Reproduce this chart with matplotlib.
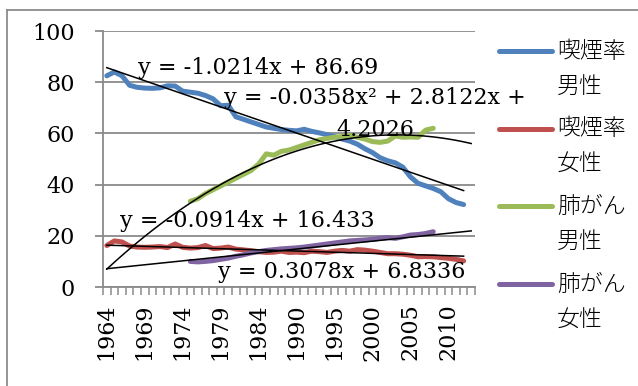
import numpy as np
import matplotlib
matplotlib.use("Agg")
import matplotlib.pyplot as plt
from matplotlib.lines import Line2D

# Survey years (one year absent between 1984 and 1990)
years = list(range(1964, 1985)) + list(range(1986, 2014))

# Smoking rate (%), from 1964
smoking_male = [82.5, 84.0, 82.5, 78.8, 78.0, 77.7, 77.6, 77.8, 78.6, 78.5,
                76.5, 76.1, 75.7, 74.8, 73.5, 70.8, 71.0, 66.5, 65.5, 64.5,
                63.5, 62.5, 62.0, 61.5, 61.2, 61.0, 61.6, 60.8, 60.2, 59.5,
                58.8, 57.8, 57.0, 55.8, 54.0, 52.5, 50.5, 49.3, 48.5, 46.8,
                43.0, 40.5, 39.5, 38.5, 37.2, 34.5, 33.0, 32.2]
smoking_female = [16.2, 18.0, 17.6, 16.0, 15.6, 15.5, 15.6, 15.8, 15.4, 16.8,
                  15.5, 15.2, 15.4, 16.2, 15.0, 15.2, 15.6, 14.8, 14.5, 14.2,
                  13.8, 13.5, 13.6, 14.0, 13.5, 13.6, 13.4, 14.0, 13.8, 13.5,
                  14.0, 14.3, 14.0, 14.6, 14.4, 14.0, 13.5, 13.0, 13.0, 12.8,
                  12.4, 11.8, 11.9, 11.8, 11.5, 11.2, 10.8, 10.2]

# Lung cancer mortality, from 1975
lung_start = 11
lung_male = [33.5, 34.5, 36.5, 38.0, 39.5, 41.0, 42.5, 44.0, 45.5, 48.0,
             52.0, 51.5, 53.0, 53.5, 54.5, 55.5, 56.5, 57.5, 58.0, 58.5,
             58.8, 59.2, 58.5, 57.8, 56.8, 56.5, 57.0, 59.0, 58.5, 58.6,
             58.5, 61.3, 62.0]
lung_female = [10.0, 9.8, 10.0, 10.3, 10.8, 11.3, 12.0, 12.6, 13.3, 13.8,
               14.3, 14.6, 14.9, 15.1, 15.3, 15.6, 16.0, 16.4, 16.8, 17.2,
               17.6, 18.0, 18.2, 18.4, 18.6, 19.0, 19.3, 19.0, 19.6, 20.3,
               20.5, 20.9, 21.6]

# Trendline coefficients (x = 1, 2, ... per category)
trend_smoking_male = (-1.0214, 86.69)
trend_smoking_female = (-0.0914, 16.433)
trend_lung_male = (-0.0358, 2.8122, 4.2026)
trend_lung_female = (0.3078, 6.8336)

legend_labels = [("喫煙率", "男性"), ("喫煙率", "女性"), ("肺がん", "男性"), ("肺がん", "女性")]
colors = ["#4F81BD", "#C0504D", "#9BBB59", "#8064A2"]

W, H = 638, 386
fig = plt.figure(figsize=(W / 100, H / 100), dpi=100)


def fx(px):
    return px / W


def fy(py):
    return 1 - py / H


# outer chart frame
fig.add_artist(Line2D([fx(7), fx(7)], [fy(10), 0], color="#8c8c8c", lw=1.3))
fig.add_artist(Line2D([fx(7), 1], [fy(10), fy(10)], color="#8c8c8c", lw=1.3))

ax = fig.add_axes([fx(103), fy(287), fx(475) - fx(103), fy(31) - fy(287)])

n_cat = len(years)
serif = "DejaVu Serif"

ax.set_xlim(-0.5, n_cat - 0.5)
ax.set_ylim(0, 100)
ax.set_yticks(range(0, 101, 20))
ax.yaxis.grid(True, color="#8a8a8a", lw=1.3)
ax.set_axisbelow(True)
for s in ["top", "right"]:
    ax.spines[s].set_visible(False)
for s in ["left", "bottom"]:
    ax.spines[s].set_color("#8a8a8a")
    ax.spines[s].set_linewidth(1.3)

ax.set_xticks(range(0, n_cat, 5))
ax.set_xticklabels([str(y) for y in years[::5]], rotation=90, family=serif, fontsize=16)
ax.set_xticks(np.arange(-0.5, n_cat, 1.0), minor=True)
ax.tick_params(axis="x", which="major", length=0, pad=12)
ax.tick_params(axis="x", which="minor", length=6, width=1.1, color="#8a8a8a")
ax.tick_params(axis="y", length=6, width=1.3, color="#8a8a8a", pad=14)
for t in ax.get_yticklabels():
    t.set_family(serif)
    t.set_fontsize(16)

idx = np.arange(n_cat)
series = [
    (idx[:len(smoking_male)], smoking_male),
    (idx[:len(smoking_female)], smoking_female),
    (idx[lung_start:lung_start + len(lung_male)], lung_male),
    (idx[lung_start:lung_start + len(lung_female)], lung_female),
]
for (xs, ys), c in zip(series, colors):
    ax.plot(xs, ys, color=c, lw=3.6, solid_capstyle="round", solid_joinstyle="round", zorder=2)

# trendlines
x1 = np.arange(1, len(smoking_male) + 1)
x2 = np.arange(1, n_cat + 1)
ax.plot(x1 - 1, np.polyval(trend_smoking_male, x1), color="black", lw=1.1, zorder=3)
ax.plot(x1 - 1, np.polyval(trend_smoking_female, x1), color="black", lw=1.1, zorder=3)
ax.plot(x2 - 1, np.polyval(trend_lung_male, x2), color="black", lw=1.1, zorder=3)
ax.plot(x2 - 1, np.polyval(trend_lung_female, x2), color="black", lw=1.1, zorder=3)


def sgn(v):
    return f"{v:g}"


eq_kw = dict(family=serif, fontsize=16, va="baseline", zorder=5)
a, b = trend_smoking_male
fig.text(fx(138), fy(74), f"y = {sgn(a)}x + {sgn(b)}", ha="left", **eq_kw)
a, b, c = trend_lung_male
fig.text(fx(375), fy(104), f"y = {sgn(a)}x² + {sgn(b)}x +", ha="center", **eq_kw)
fig.text(fx(375), fy(136), f"{sgn(c)}", ha="center", **eq_kw)
a, b = trend_smoking_female
fig.text(fx(120), fy(227), f"y = {sgn(a)}x + {sgn(b)}", ha="left", **eq_kw)
a, b = trend_lung_female
fig.text(fx(218), fy(278), f"y = {sgn(a)}x + {sgn(b)}", ha="left", **eq_kw)

# legend
cjk = ["Noto Sans CJK JP", "DejaVu Sans"]
for k, ((l1, l2), c) in enumerate(zip(legend_labels, colors)):
    yk = 51 + 77.7 * k
    fig.add_artist(Line2D([fx(499), fx(552)], [fy(yk), fy(yk)], color=c, lw=3.6,
                          solid_capstyle="round"))
    fig.text(fx(557), fy(yk), l1, family=cjk, fontsize=16.5, va="center", ha="left",
             weight="light")
    fig.text(fx(557), fy(yk + 35), l2, family=cjk, fontsize=16.5, va="center", ha="left",
             weight="light")

fig.savefig("out.png", dpi=100)
